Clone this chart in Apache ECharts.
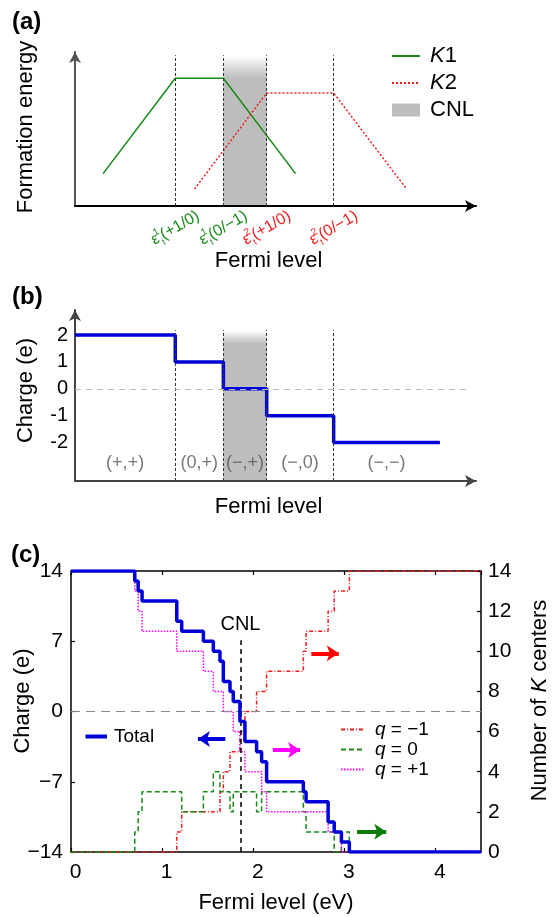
<!DOCTYPE html>
<html>
<head>
<meta charset="utf-8">
<script src="https://cdn.jsdelivr.net/npm/echarts@6/dist/echarts.min.js"></script>
<style>
html, body { margin: 0; padding: 0; background: #fff; }
#chart { width: 552px; height: 917px; }
</style>
</head>
<body>
<div id="chart"></div>
<script>
const FONT = '"Liberation Sans", Arial, Helvetica, sans-serif';
const GREEN = '#168a16';
const RED = '#f01c1c';
const BLUE = '#0000d8';
const MAGENTA = '#ff00ff';
const SHADE = '#bdbdbd';

// ---- (a) formation energy sketch, arbitrary units ----
const k1X = [7, 25, 37, 55];
const k1E = [21, 83, 83, 21];
const k2X = [29.8, 47.8, 64.5, 82.7];
const k2E = [11, 73.4, 73.4, 11];
const levelX = [25, 37, 47.8, 64.5];
const levelCenter = ['1', '1', '2', '2'];
const levelCharge = ['(+1/0)', '(0/\u22121)', '(+1/0)', '(0/\u22121)'];
const cnlX = [37, 47.8];

// ---- (b) charge of the pair ----
const stepX = [0, 25, 37, 47.8, 64.5, 91];
const stepQ = [2, 1, 0, -1, -2, -2];
const chargeTicks = [-2, -1, 0, 1, 2];
const regionX = [12.5, 31, 42.4, 56.1, 77.7];
const regionText = ['(+,+)', '(0,+)', '(\u2212,+)', '(\u2212,0)', '(\u2212,\u2212)'];

// ---- (c) 14 K centers vs Fermi level (eV) ----
const totalE = [0, 0.70, 0.737, 0.78, 1.161, 1.215, 1.453, 1.562, 1.635, 1.672, 1.745, 1.781, 1.854, 1.909, 2.037, 2.092, 2.147, 2.55, 2.58, 2.822, 2.889, 2.968, 3.055, 4.5];
const totalQ = [14, 13, 12, 11, 9, 8, 7, 6, 5, 3, 2, 1, -1, -3, -4, -5, -7, -8, -9, -11, -12, -13, -14, -14];
const minusE = [0, 1.161, 1.215, 1.635, 1.672, 1.745, 1.854, 1.909, 2.037, 2.147, 2.55, 2.58, 2.822, 2.889, 3.055, 4.5];
const minusN = [0, 1, 2, 3, 4, 5, 6, 7, 8, 9, 10, 11, 12, 13, 14, 14];
const neutralE = [0, 0.70, 0.737, 0.78, 1.215, 1.453, 1.562, 1.635, 1.745, 1.781, 2.037, 2.092, 2.55, 2.58, 2.889, 2.968, 3.055, 4.5];
const neutralN = [0, 1, 2, 3, 2, 3, 4, 3, 2, 3, 2, 3, 2, 1, 0, 1, 0, 0];
const plusE = [0, 0.70, 0.737, 0.78, 1.161, 1.453, 1.562, 1.672, 1.781, 1.854, 1.909, 2.092, 2.147, 2.822, 2.968, 4.5];
const plusN = [14, 13, 12, 11, 10, 9, 8, 7, 6, 5, 4, 3, 2, 1, 0, 0];
const cnlE = 1.86;

function zip(xs, ys) { return xs.map((x, i) => [x, ys[i]]); }

function cnlRenderer(fade) {
  return function (params, api) {
    const p0 = api.coord([api.value(0), api.value(3)]);
    const p1 = api.coord([api.value(1), api.value(2)]);
    return {
      type: 'rect',
      shape: { x: p0[0], y: p0[1], width: p1[0] - p0[0], height: p1[1] - p0[1] },
      style: {
        fill: new echarts.graphic.LinearGradient(0, 0, 0, 1, [
          { offset: 0, color: '#ffffff' },
          { offset: fade, color: SHADE },
          { offset: 1, color: SHADE }
        ])
      }
    };
  };
}

function arrow(x0, x1, y, color) {
  return [
    { coord: [x0, y], symbol: 'none', lineStyle: { color: color, width: 4, type: 'solid' } },
    { coord: [x1, y], symbol: 'arrow', symbolSize: [12, 12] }
  ];
}

// legend entries for lines: hide the marker the line series puts on its icon
function lineItem(name, width) {
  const item = { name: name, itemStyle: { opacity: 0 } };
  if (width) item.lineStyle = { width: width };
  return item;
}

const levelRich = {
  g: { color: GREEN, fontSize: 16, lineHeight: 22, fontFamily: FONT },
  gs: { color: GREEN, fontSize: 10, width: 1, verticalAlign: 'top', fontFamily: FONT },
  gb: { color: GREEN, fontSize: 9, verticalAlign: 'bottom', fontFamily: FONT },
  r: { color: RED, fontSize: 16, lineHeight: 22, fontFamily: FONT },
  rs: { color: RED, fontSize: 10, width: 1, verticalAlign: 'top', fontFamily: FONT },
  rb: { color: RED, fontSize: 9, verticalAlign: 'bottom', fontFamily: FONT }
};

const nameStyle = { fontSize: 22, color: '#000', fontFamily: FONT };
const noSplit = { show: false };

const option = {
  animation: false,
  textStyle: { fontFamily: FONT },
  graphic: [
    { type: 'text', left: 12, top: 10, style: { text: '(a)', fontSize: 24, fontWeight: 'bold', fontFamily: FONT, fill: '#000' } },
    { type: 'text', left: 12, top: 285, style: { text: '(b)', fontSize: 24, fontWeight: 'bold', fontFamily: FONT, fill: '#000' } },
    { type: 'text', left: 11, top: 543, style: { text: '(c)', fontSize: 24, fontWeight: 'bold', fontFamily: FONT, fill: '#000' } }
  ],
  legend: [
    {
      orient: 'vertical', left: 391, top: 45, padding: 0, itemGap: 5, itemWidth: 28, itemHeight: 13,
      selectedMode: false,
      data: [lineItem('K1'), lineItem('K2'), { name: 'CNL', icon: 'rect' }],
      formatter: function (name) { return name === 'CNL' ? 'CNL' : '{i|K}' + name.slice(1); },
      textStyle: {
        fontSize: 22, color: '#000', padding: [0, 0, 0, 5],
        rich: { i: { fontStyle: 'italic', fontSize: 22, color: '#000' } }
      }
    },
    {
      left: 83.5, top: 727, padding: 0, itemWidth: 21.5, itemHeight: 12, selectedMode: false,
      data: [lineItem('Total', 4)],
      textStyle: { fontSize: 19, color: '#000', padding: [0, 0, 0, 2] }
    },
    {
      orient: 'vertical', left: 340, top: 720, padding: 0, itemGap: 1, itemWidth: 23, itemHeight: 12,
      selectedMode: false,
      data: [lineItem('q = \u22121'), lineItem('q = 0'), lineItem('q = +1')],
      formatter: function (name) { return '{i|q}' + name.slice(1); },
      textStyle: {
        fontSize: 19, color: '#000', padding: [0, 0, 0, 6],
        rich: { i: { fontStyle: 'italic', fontSize: 19, color: '#000' } }
      }
    }
  ],
  grid: [
    { left: 75, right: 76, top: 52, height: 154, containLabel: false, outerBoundsMode: 'none' },
    { left: 75, right: 76, top: 310, height: 171, containLabel: false, outerBoundsMode: 'none' },
    { left: 71, right: 71, top: 571, height: 281, containLabel: false, outerBoundsMode: 'none' }
  ],
  xAxis: [
    {
      gridIndex: 0, type: 'value', min: 0, max: 100, z: 3,
      splitLine: noSplit, axisTick: { show: false },
      axisLine: { onZero: false, lineStyle: { color: '#000', width: 2 }, symbol: ['none', 'arrow'], symbolSize: [9, 11] },
      axisLabel: {
        customValues: levelX, rotate: 30, align: 'center', verticalAlign: 'middle', margin: 22,
        formatter: function (v) {
          const i = levelX.indexOf(v);
          const c = levelCenter[i] === '1' ? 'g' : 'r';
          return '{' + c + '|\u03b5}{' + c + 's|' + levelCenter[i] + '}{' + c + 'b|t}{' + c + '|' + levelCharge[i] + '}';
        },
        rich: levelRich
      },
      name: 'Fermi level', nameLocation: 'middle', nameGap: 44, nameMoveOverlap: false,
      nameTextStyle: Object.assign({ padding: [0, 14, 0, 0] }, nameStyle)
    },
    {
      gridIndex: 1, type: 'value', min: 0, max: 100, z: 3,
      splitLine: noSplit, axisTick: { show: false }, axisLabel: { show: false },
      axisLine: { onZero: false, lineStyle: { color: '#444', width: 2 }, symbol: ['none', 'arrow'], symbolSize: [9, 11] },
      name: 'Fermi level', nameLocation: 'middle', nameGap: 15, nameMoveOverlap: false,
      nameTextStyle: Object.assign({ padding: [0, 14, 0, 0] }, nameStyle)
    },
    {
      gridIndex: 2, type: 'value', min: 0, max: 4.5, interval: 1,
      splitLine: noSplit,
      axisLine: { onZero: false, lineStyle: { color: '#000', width: 1.5 } },
      axisTick: { inside: true, length: 4, lineStyle: { color: '#000', width: 1.2 } },
      axisLabel: { fontSize: 21, color: '#000', margin: 10, padding: [0, 0, 0, 9], showMaxLabel: false },
      name: 'Fermi level (eV)', nameLocation: 'middle', nameGap: 40, nameMoveOverlap: false, nameTextStyle: nameStyle
    },
    {
      gridIndex: 2, type: 'value', position: 'top', min: 0, max: 4.5, interval: 1,
      splitLine: noSplit, axisLabel: { show: false },
      axisLine: { onZero: false, lineStyle: { color: '#000', width: 1.5 } },
      axisTick: { inside: true, length: 4, lineStyle: { color: '#000', width: 1.2 } }
    }
  ],
  yAxis: [
    {
      gridIndex: 0, type: 'value', min: 0, max: 100,
      splitLine: noSplit, axisTick: { show: false }, axisLabel: { show: false },
      axisLine: { onZero: false, lineStyle: { color: '#555', width: 2 }, symbol: ['none', 'arrow'], symbolSize: [9, 11] },
      name: 'Formation energy', nameLocation: 'middle', nameGap: 38, nameMoveOverlap: false,
      nameTextStyle: Object.assign({ padding: [0, 0, 0, 4] }, nameStyle)
    },
    {
      gridIndex: 1, type: 'value', min: -3.43, max: 2.93,
      splitLine: noSplit, axisTick: { show: false },
      axisLine: { onZero: false, lineStyle: { color: '#444', width: 2 }, symbol: ['none', 'arrow'], symbolSize: [9, 11] },
      axisLabel: { customValues: chargeTicks, fontSize: 20, color: '#000', margin: 7 },
      name: 'Charge (e)', nameLocation: 'middle', nameGap: 38, nameMoveOverlap: false,
      nameTextStyle: Object.assign({ padding: [0, 0, 0, 10] }, nameStyle)
    },
    {
      gridIndex: 2, type: 'value', min: -14, max: 14, interval: 7,
      splitLine: noSplit,
      axisLine: { onZero: false, lineStyle: { color: '#000', width: 1.5 } },
      axisTick: { inside: true, length: 4, lineStyle: { color: '#000', width: 1.2 } },
      axisLabel: { fontSize: 21, color: '#000', margin: 8, formatter: function (v) { return String(v).replace('-', '\u2212'); } },
      name: 'Charge (e)', nameLocation: 'middle', nameGap: 37, nameMoveOverlap: false,
      nameTextStyle: Object.assign({ padding: [0, 0, 0, 21] }, nameStyle)
    },
    {
      gridIndex: 2, type: 'value', position: 'right', min: 0, max: 14, interval: 2,
      splitLine: noSplit,
      axisLine: { onZero: false, lineStyle: { color: '#000', width: 1.5 } },
      axisTick: { inside: true, length: 4, lineStyle: { color: '#000', width: 1.2 } },
      axisLabel: { fontSize: 21, color: '#000', margin: 7 },
      name: 'Number of {i|K} centers', nameLocation: 'middle', nameGap: 48, nameMoveOverlap: false,
      nameTextStyle: Object.assign({ padding: [0, 0, 0, 22], rich: { i: { fontStyle: 'italic', fontSize: 22, color: '#000' } } }, nameStyle)
    }
  ],
  series: [
    // (a)
    {
      name: 'CNL', type: 'custom', xAxisIndex: 0, yAxisIndex: 0, z: 1,
      renderItem: cnlRenderer(0.154), itemStyle: { color: SHADE },
      encode: { x: [0, 1], y: [2, 3] },
      data: [[cnlX[0], cnlX[1], 0, 97.9]]
    },
    {
      name: 'K1', type: 'line', xAxisIndex: 0, yAxisIndex: 0, symbol: 'none',
      lineStyle: { color: GREEN, width: 1.5 }, itemStyle: { color: GREEN },
      data: zip(k1X, k1E),
      markLine: {
        silent: true, symbol: 'none', label: { show: false },
        lineStyle: { color: '#333', width: 1, type: [3, 2] },
        data: levelX.map(x => [{ coord: [x, 0] }, { coord: [x, 97.9] }])
      }
    },
    {
      name: 'K2', type: 'line', xAxisIndex: 0, yAxisIndex: 0, symbol: 'none',
      lineStyle: { color: RED, width: 1.5, type: [2, 2] }, itemStyle: { color: RED },
      data: zip(k2X, k2E)
    },
    // (b)
    {
      name: 'CNL b', type: 'custom', xAxisIndex: 1, yAxisIndex: 1, z: 1,
      renderItem: cnlRenderer(0.088), itemStyle: { color: SHADE },
      encode: { x: [0, 1], y: [2, 3] },
      data: [[cnlX[0], cnlX[1], -3.43, 2.18]]
    },
    {
      name: 'charge', type: 'line', xAxisIndex: 1, yAxisIndex: 1, symbol: 'none', step: 'end', z: 4,
      lineStyle: { color: BLUE, width: 3.5 },
      data: zip(stepX, stepQ),
      markLine: {
        silent: true, symbol: 'none', label: { show: false },
        lineStyle: { color: '#333', width: 1, type: [3, 2] },
        data: levelX.map(x => [{ coord: [x, -3.43] }, { coord: [x, 2.18] }]).concat([
          [{ coord: [0, 0], lineStyle: { color: '#bbb', width: 1, type: [6, 5] } }, { coord: [98.5, 0] }]
        ])
      }
    },
    {
      name: 'regions', type: 'scatter', xAxisIndex: 1, yAxisIndex: 1, symbolSize: 0, silent: true,
      data: regionX.map(x => [x, -2.77]),
      label: {
        show: true, position: 'inside', fontSize: 18, color: '#555', fontFamily: FONT,
        formatter: function (p) { return regionText[p.dataIndex]; }
      }
    },
    // (c)
    {
      name: 'q = \u22121', type: 'line', xAxisIndex: 2, yAxisIndex: 3, symbol: 'none', step: 'end',
      lineStyle: { color: RED, width: 1.5, type: [4, 2, 1, 2] }, itemStyle: { color: RED },
      data: zip(minusE, minusN),
      markLine: { silent: true, symbol: 'none', label: { show: false }, data: [arrow(2.638, 2.939, 9.9, '#ff0000')] }
    },
    {
      name: 'q = 0', type: 'line', xAxisIndex: 2, yAxisIndex: 3, symbol: 'none', step: 'end',
      lineStyle: { color: GREEN, width: 1.5, type: [5, 3] }, itemStyle: { color: GREEN },
      data: zip(neutralE, neutralN),
      markLine: { silent: true, symbol: 'none', label: { show: false }, data: [arrow(3.14, 3.46, 1.01, '#0a7a0a')] }
    },
    {
      name: 'q = +1', type: 'line', xAxisIndex: 2, yAxisIndex: 3, symbol: 'none', step: 'end',
      lineStyle: { color: MAGENTA, width: 1.5, type: [1.5, 1.5] }, itemStyle: { color: MAGENTA },
      data: zip(plusE, plusN),
      markLine: { silent: true, symbol: 'none', label: { show: false }, data: [arrow(2.215, 2.515, 5.08, MAGENTA)] }
    },
    {
      name: 'Total', type: 'line', xAxisIndex: 2, yAxisIndex: 2, symbol: 'none', step: 'end', z: 5,
      lineStyle: { color: BLUE, width: 3.5 }, itemStyle: { color: BLUE },
      data: zip(totalE, totalQ),
      markLine: {
        silent: true, symbol: 'none', label: { show: false },
        data: [
          { yAxis: 0, lineStyle: { color: '#888', width: 1, type: [9, 6] } },
          [
            {
              coord: [cnlE, -14], lineStyle: { color: '#000', width: 1.5, type: [5, 4] },
              label: { show: true, position: 'end', formatter: 'CNL', color: '#000', fontSize: 20, fontFamily: FONT, distance: 6 }
            },
            { coord: [cnlE, 7.1] }
          ],
          arrow(1.694, 1.393, -2.74, BLUE)
        ]
      }
    }
  ]
};

const chart = echarts.init(document.getElementById('chart'));
chart.setOption(option);
</script>
</body>
</html>
